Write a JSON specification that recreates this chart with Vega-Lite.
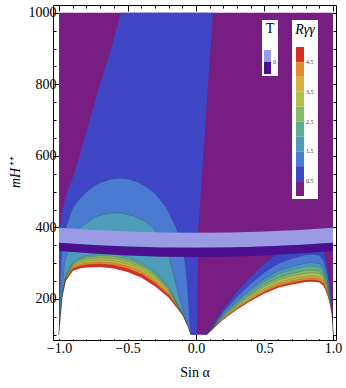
{
 "$schema": "https://vega.github.io/schema/vega-lite/v6.json",
 "width": 283, "height": 335,
 "autosize": {"type": "none"},
 "padding": {"left": 53, "top": 5, "right": 10, "bottom": 48},
 "background": "white",
 "config": {
  "view": {"stroke": "black", "strokeWidth": 1},
  "axis": {"domain": false, "grid": false, "tickColor": "black", "tickWidth": 1, "labelColor": "black", "labelFont": "Liberation Serif", "titleFont": "Liberation Serif", "titleColor": "black", "titleFontWeight": "normal"}
 },
 "datasets": {
  "bg": [{"x": -1, "x2": 1, "y": 100, "y2": 1000, "lev": 0.25}],
  "wedge": [
   {"y": 100, "xl": -1, "xr": 0.007, "lev": 0.75},
   {"y": 360, "xl": -1, "xr": 0.016, "lev": 0.75},
   {"y": 400, "xl": -0.993, "xr": 0.017, "lev": 0.75},
   {"y": 450, "xl": -0.975, "xr": 0.026, "lev": 0.75},
   {"y": 500, "xl": -0.94, "xr": 0.035, "lev": 0.75},
   {"y": 550, "xl": -0.89, "xr": 0.044, "lev": 0.75},
   {"y": 600, "xl": -0.85, "xr": 0.053, "lev": 0.75},
   {"y": 700, "xl": -0.775, "xr": 0.071, "lev": 0.75},
   {"y": 800, "xl": -0.7, "xr": 0.088, "lev": 0.75},
   {"y": 900, "xl": -0.62, "xr": 0.106, "lev": 0.75},
   {"y": 1000, "xl": -0.547, "xr": 0.124, "lev": 0.75}
  ],
  "dome": [
   {"g":"L10","lev":1.25,"x":-1,"y":100},{"g":"L10","lev":1.25,"x":-0.995,"y":200},{"g":"L10","lev":1.25,"x":-0.985,"y":309},{"g":"L10","lev":1.25,"x":-0.97,"y":360},{"g":"L10","lev":1.25,"x":-0.949,"y":401},{"g":"L10","lev":1.25,"x":-0.9,"y":455},{"g":"L10","lev":1.25,"x":-0.85,"y":480},{"g":"L10","lev":1.25,"x":-0.8,"y":499},{"g":"L10","lev":1.25,"x":-0.75,"y":514},{"g":"L10","lev":1.25,"x":-0.7,"y":525},{"g":"L10","lev":1.25,"x":-0.63,"y":534},{"g":"L10","lev":1.25,"x":-0.555,"y":538},{"g":"L10","lev":1.25,"x":-0.48,"y":534},{"g":"L10","lev":1.25,"x":-0.42,"y":526},{"g":"L10","lev":1.25,"x":-0.36,"y":513},{"g":"L10","lev":1.25,"x":-0.299,"y":495},{"g":"L10","lev":1.25,"x":-0.22,"y":458},{"g":"L10","lev":1.25,"x":-0.146,"y":401},{"g":"L10","lev":1.25,"x":-0.1,"y":345},{"g":"L10","lev":1.25,"x":-0.075,"y":290},{"g":"L10","lev":1.25,"x":-0.058,"y":215},{"g":"L10","lev":1.25,"x":-0.04,"y":100},
   {"g":"L15","lev":1.75,"x":-1,"y":100},{"g":"L15","lev":1.75,"x":-0.99,"y":160},{"g":"L15","lev":1.75,"x":-0.985,"y":197},{"g":"L15","lev":1.75,"x":-0.97,"y":260},{"g":"L15","lev":1.75,"x":-0.956,"y":309},{"g":"L15","lev":1.75,"x":-0.9,"y":370},{"g":"L15","lev":1.75,"x":-0.839,"y":401},{"g":"L15","lev":1.75,"x":-0.75,"y":426},{"g":"L15","lev":1.75,"x":-0.68,"y":436},{"g":"L15","lev":1.75,"x":-0.606,"y":441},{"g":"L15","lev":1.75,"x":-0.53,"y":439},{"g":"L15","lev":1.75,"x":-0.45,"y":431},{"g":"L15","lev":1.75,"x":-0.38,"y":419},{"g":"L15","lev":1.75,"x":-0.314,"y":400},{"g":"L15","lev":1.75,"x":-0.25,"y":362},{"g":"L15","lev":1.75,"x":-0.19,"y":309},{"g":"L15","lev":1.75,"x":-0.117,"y":197},{"g":"L15","lev":1.75,"x":-0.08,"y":150},{"g":"L15","lev":1.75,"x":-0.04,"y":100},
   {"g":"L20","lev":2.25,"x":-1,"y":100},{"g":"L20","lev":2.25,"x":-0.99,"y":145.2},{"g":"L20","lev":2.25,"x":-0.975,"y":213.8},{"g":"L20","lev":2.25,"x":-0.95,"y":266.9},{"g":"L20","lev":2.25,"x":-0.9,"y":301.9},{"g":"L20","lev":2.25,"x":-0.85,"y":313.6},{"g":"L20","lev":2.25,"x":-0.8,"y":320.5},{"g":"L20","lev":2.25,"x":-0.7,"y":326.2},{"g":"L20","lev":2.25,"x":-0.6,"y":325.6},{"g":"L20","lev":2.25,"x":-0.5,"y":316.6},{"g":"L20","lev":2.25,"x":-0.4,"y":301.9},{"g":"L20","lev":2.25,"x":-0.3,"y":275.8},{"g":"L20","lev":2.25,"x":-0.2,"y":233.6},{"g":"L20","lev":2.25,"x":-0.1,"y":160.2},{"g":"L20","lev":2.25,"x":-0.06,"y":122.8},{"g":"L20","lev":2.25,"x":-0.04,"y":100},
   {"g":"L25","lev":2.75,"x":-1,"y":100},{"g":"L25","lev":2.75,"x":-0.99,"y":144.4},{"g":"L25","lev":2.75,"x":-0.975,"y":212.5},{"g":"L25","lev":2.75,"x":-0.95,"y":264.3},{"g":"L25","lev":2.75,"x":-0.9,"y":298.2},{"g":"L25","lev":2.75,"x":-0.85,"y":309.2},{"g":"L25","lev":2.75,"x":-0.8,"y":315.5},{"g":"L25","lev":2.75,"x":-0.7,"y":320.5},{"g":"L25","lev":2.75,"x":-0.6,"y":319.3},{"g":"L25","lev":2.75,"x":-0.5,"y":310.2},{"g":"L25","lev":2.75,"x":-0.4,"y":295.4},{"g":"L25","lev":2.75,"x":-0.3,"y":269.5},{"g":"L25","lev":2.75,"x":-0.2,"y":229.1},{"g":"L25","lev":2.75,"x":-0.1,"y":159.4},{"g":"L25","lev":2.75,"x":-0.06,"y":122.7},{"g":"L25","lev":2.75,"x":-0.04,"y":100},
   {"g":"L30","lev":3.25,"x":-1,"y":100},{"g":"L30","lev":3.25,"x":-0.99,"y":143.6},{"g":"L30","lev":3.25,"x":-0.975,"y":211.1},{"g":"L30","lev":3.25,"x":-0.95,"y":261.7},{"g":"L30","lev":3.25,"x":-0.9,"y":294.6},{"g":"L30","lev":3.25,"x":-0.85,"y":304.8},{"g":"L30","lev":3.25,"x":-0.8,"y":310.5},{"g":"L30","lev":3.25,"x":-0.7,"y":314.7},{"g":"L30","lev":3.25,"x":-0.6,"y":313.1},{"g":"L30","lev":3.25,"x":-0.5,"y":303.8},{"g":"L30","lev":3.25,"x":-0.4,"y":289},{"g":"L30","lev":3.25,"x":-0.3,"y":263.3},{"g":"L30","lev":3.25,"x":-0.2,"y":224.5},{"g":"L30","lev":3.25,"x":-0.1,"y":158.6},{"g":"L30","lev":3.25,"x":-0.06,"y":122.5},{"g":"L30","lev":3.25,"x":-0.04,"y":100},
   {"g":"L35","lev":3.75,"x":-1,"y":100},{"g":"L35","lev":3.75,"x":-0.99,"y":142.8},{"g":"L35","lev":3.75,"x":-0.975,"y":209.8},{"g":"L35","lev":3.75,"x":-0.95,"y":259.1},{"g":"L35","lev":3.75,"x":-0.9,"y":290.9},{"g":"L35","lev":3.75,"x":-0.85,"y":300.4},{"g":"L35","lev":3.75,"x":-0.8,"y":305.5},{"g":"L35","lev":3.75,"x":-0.7,"y":309},{"g":"L35","lev":3.75,"x":-0.6,"y":306.8},{"g":"L35","lev":3.75,"x":-0.5,"y":297.4},{"g":"L35","lev":3.75,"x":-0.4,"y":282.5},{"g":"L35","lev":3.75,"x":-0.3,"y":257},{"g":"L35","lev":3.75,"x":-0.2,"y":220},{"g":"L35","lev":3.75,"x":-0.1,"y":157.8},{"g":"L35","lev":3.75,"x":-0.06,"y":122.4},{"g":"L35","lev":3.75,"x":-0.04,"y":100},
   {"g":"L40","lev":4.25,"x":-1,"y":100},{"g":"L40","lev":4.25,"x":-0.99,"y":142},{"g":"L40","lev":4.25,"x":-0.975,"y":208.4},{"g":"L40","lev":4.25,"x":-0.95,"y":256.5},{"g":"L40","lev":4.25,"x":-0.9,"y":287.2},{"g":"L40","lev":4.25,"x":-0.85,"y":296},{"g":"L40","lev":4.25,"x":-0.8,"y":300.5},{"g":"L40","lev":4.25,"x":-0.7,"y":303.3},{"g":"L40","lev":4.25,"x":-0.6,"y":300.6},{"g":"L40","lev":4.25,"x":-0.5,"y":291},{"g":"L40","lev":4.25,"x":-0.4,"y":276.1},{"g":"L40","lev":4.25,"x":-0.3,"y":250.7},{"g":"L40","lev":4.25,"x":-0.2,"y":215.4},{"g":"L40","lev":4.25,"x":-0.1,"y":157},{"g":"L40","lev":4.25,"x":-0.06,"y":122.3},{"g":"L40","lev":4.25,"x":-0.04,"y":100},
   {"g":"L45","lev":4.75,"x":-1,"y":100},{"g":"L45","lev":4.75,"x":-0.99,"y":141.2},{"g":"L45","lev":4.75,"x":-0.975,"y":207},{"g":"L45","lev":4.75,"x":-0.95,"y":253.9},{"g":"L45","lev":4.75,"x":-0.9,"y":283.5},{"g":"L45","lev":4.75,"x":-0.85,"y":291.6},{"g":"L45","lev":4.75,"x":-0.8,"y":295.5},{"g":"L45","lev":4.75,"x":-0.7,"y":297.6},{"g":"L45","lev":4.75,"x":-0.6,"y":294.4},{"g":"L45","lev":4.75,"x":-0.5,"y":284.6},{"g":"L45","lev":4.75,"x":-0.4,"y":269.7},{"g":"L45","lev":4.75,"x":-0.3,"y":244.4},{"g":"L45","lev":4.75,"x":-0.2,"y":210.8},{"g":"L45","lev":4.75,"x":-0.1,"y":156.2},{"g":"L45","lev":4.75,"x":-0.06,"y":122.2},{"g":"L45","lev":4.75,"x":-0.04,"y":100},
   {"g":"R05","lev":0.75,"x":0.05,"y":100},{"g":"R05","lev":0.75,"x":0.08,"y":106},{"g":"R05","lev":0.75,"x":0.1,"y":112.2},{"g":"R05","lev":0.75,"x":0.15,"y":143.5},{"g":"R05","lev":0.75,"x":0.2,"y":173.1},{"g":"R05","lev":0.75,"x":0.3,"y":221.8},{"g":"R05","lev":0.75,"x":0.4,"y":263.6},{"g":"R05","lev":0.75,"x":0.5,"y":300.1},{"g":"R05","lev":0.75,"x":0.6,"y":327.9},{"g":"R05","lev":0.75,"x":0.7,"y":343.6},{"g":"R05","lev":0.75,"x":0.8,"y":355.8},{"g":"R05","lev":0.75,"x":0.85,"y":357.5},{"g":"R05","lev":0.75,"x":0.9,"y":354},{"g":"R05","lev":0.75,"x":0.93,"y":338.4},{"g":"R05","lev":0.75,"x":0.96,"y":291.4},{"g":"R05","lev":0.75,"x":0.98,"y":239.2},{"g":"R05","lev":0.75,"x":0.99,"y":200.9},{"g":"R05","lev":0.75,"x":1,"y":100},
   {"g":"R10","lev":1.25,"x":0.08,"y":100},{"g":"R10","lev":1.25,"x":0.1,"y":110.6},{"g":"R10","lev":1.25,"x":0.15,"y":138},{"g":"R10","lev":1.25,"x":0.2,"y":163.8},{"g":"R10","lev":1.25,"x":0.3,"y":206.4},{"g":"R10","lev":1.25,"x":0.4,"y":242.9},{"g":"R10","lev":1.25,"x":0.5,"y":274.8},{"g":"R10","lev":1.25,"x":0.6,"y":299.1},{"g":"R10","lev":1.25,"x":0.7,"y":312.8},{"g":"R10","lev":1.25,"x":0.8,"y":323.4},{"g":"R10","lev":1.25,"x":0.85,"y":325},{"g":"R10","lev":1.25,"x":0.9,"y":321.9},{"g":"R10","lev":1.25,"x":0.93,"y":308.2},{"g":"R10","lev":1.25,"x":0.96,"y":267.2},{"g":"R10","lev":1.25,"x":0.98,"y":221.6},{"g":"R10","lev":1.25,"x":0.99,"y":188.2},{"g":"R10","lev":1.25,"x":1,"y":100},
   {"g":"R15","lev":1.75,"x":0.08,"y":100},{"g":"R15","lev":1.75,"x":0.1,"y":109.5},{"g":"R15","lev":1.75,"x":0.15,"y":134},{"g":"R15","lev":1.75,"x":0.2,"y":157.1},{"g":"R15","lev":1.75,"x":0.3,"y":195.2},{"g":"R15","lev":1.75,"x":0.4,"y":227.8},{"g":"R15","lev":1.75,"x":0.5,"y":256.4},{"g":"R15","lev":1.75,"x":0.6,"y":278.2},{"g":"R15","lev":1.75,"x":0.7,"y":290.4},{"g":"R15","lev":1.75,"x":0.8,"y":299.9},{"g":"R15","lev":1.75,"x":0.85,"y":301.3},{"g":"R15","lev":1.75,"x":0.9,"y":298.6},{"g":"R15","lev":1.75,"x":0.93,"y":286.3},{"g":"R15","lev":1.75,"x":0.96,"y":249.6},{"g":"R15","lev":1.75,"x":0.98,"y":208.8},{"g":"R15","lev":1.75,"x":0.99,"y":178.9},{"g":"R15","lev":1.75,"x":1,"y":100},
   {"g":"R20","lev":2.25,"x":0.08,"y":100},{"g":"R20","lev":2.25,"x":0.1,"y":109.1},{"g":"R20","lev":2.25,"x":0.15,"y":132.5},{"g":"R20","lev":2.25,"x":0.2,"y":154.6},{"g":"R20","lev":2.25,"x":0.3,"y":191},{"g":"R20","lev":2.25,"x":0.4,"y":222.2},{"g":"R20","lev":2.25,"x":0.5,"y":249.5},{"g":"R20","lev":2.25,"x":0.6,"y":270.3},{"g":"R20","lev":2.25,"x":0.7,"y":282},{"g":"R20","lev":2.25,"x":0.8,"y":291.1},{"g":"R20","lev":2.25,"x":0.85,"y":292.4},{"g":"R20","lev":2.25,"x":0.9,"y":289.8},{"g":"R20","lev":2.25,"x":0.93,"y":278.1},{"g":"R20","lev":2.25,"x":0.96,"y":243},{"g":"R20","lev":2.25,"x":0.98,"y":204},{"g":"R20","lev":2.25,"x":0.99,"y":175.4},{"g":"R20","lev":2.25,"x":1,"y":100},
   {"g":"R25","lev":2.75,"x":0.08,"y":100},{"g":"R25","lev":2.75,"x":0.1,"y":108.5},{"g":"R25","lev":2.75,"x":0.15,"y":130.5},{"g":"R25","lev":2.75,"x":0.2,"y":151.2},{"g":"R25","lev":2.75,"x":0.3,"y":185.4},{"g":"R25","lev":2.75,"x":0.4,"y":214.7},{"g":"R25","lev":2.75,"x":0.5,"y":240.3},{"g":"R25","lev":2.75,"x":0.6,"y":259.8},{"g":"R25","lev":2.75,"x":0.7,"y":270.8},{"g":"R25","lev":2.75,"x":0.8,"y":279.3},{"g":"R25","lev":2.75,"x":0.85,"y":280.6},{"g":"R25","lev":2.75,"x":0.9,"y":278.1},{"g":"R25","lev":2.75,"x":0.93,"y":267.1},{"g":"R25","lev":2.75,"x":0.96,"y":234.2},{"g":"R25","lev":2.75,"x":0.98,"y":197.6},{"g":"R25","lev":2.75,"x":0.99,"y":170.8},{"g":"R25","lev":2.75,"x":1,"y":100},
   {"g":"R30","lev":3.25,"x":0.08,"y":100},{"g":"R30","lev":3.25,"x":0.1,"y":108.2},{"g":"R30","lev":3.25,"x":0.15,"y":129.3},{"g":"R30","lev":3.25,"x":0.2,"y":149.1},{"g":"R30","lev":3.25,"x":0.3,"y":181.9},{"g":"R30","lev":3.25,"x":0.4,"y":210},{"g":"R30","lev":3.25,"x":0.5,"y":234.6},{"g":"R30","lev":3.25,"x":0.6,"y":253.3},{"g":"R30","lev":3.25,"x":0.7,"y":263.8},{"g":"R30","lev":3.25,"x":0.8,"y":272},{"g":"R30","lev":3.25,"x":0.85,"y":273.2},{"g":"R30","lev":3.25,"x":0.9,"y":270.8},{"g":"R30","lev":3.25,"x":0.93,"y":260.3},{"g":"R30","lev":3.25,"x":0.96,"y":228.7},{"g":"R30","lev":3.25,"x":0.98,"y":193.6},{"g":"R30","lev":3.25,"x":0.99,"y":167.9},{"g":"R30","lev":3.25,"x":1,"y":100},
   {"g":"R35","lev":3.75,"x":0.08,"y":100},{"g":"R35","lev":3.75,"x":0.1,"y":107.8},{"g":"R35","lev":3.75,"x":0.15,"y":127.8},{"g":"R35","lev":3.75,"x":0.2,"y":146.6},{"g":"R35","lev":3.75,"x":0.3,"y":177.7},{"g":"R35","lev":3.75,"x":0.4,"y":204.3},{"g":"R35","lev":3.75,"x":0.5,"y":227.7},{"g":"R35","lev":3.75,"x":0.6,"y":245.4},{"g":"R35","lev":3.75,"x":0.7,"y":255.4},{"g":"R35","lev":3.75,"x":0.8,"y":263.2},{"g":"R35","lev":3.75,"x":0.85,"y":264.3},{"g":"R35","lev":3.75,"x":0.9,"y":262.1},{"g":"R35","lev":3.75,"x":0.93,"y":252.1},{"g":"R35","lev":3.75,"x":0.96,"y":222.1},{"g":"R35","lev":3.75,"x":0.98,"y":188.8},{"g":"R35","lev":3.75,"x":0.99,"y":164.4},{"g":"R35","lev":3.75,"x":1,"y":100},
   {"g":"R40","lev":4.25,"x":0.08,"y":100},{"g":"R40","lev":4.25,"x":0.1,"y":107.5},{"g":"R40","lev":4.25,"x":0.15,"y":127},{"g":"R40","lev":4.25,"x":0.2,"y":145},{"g":"R40","lev":4.25,"x":0.3,"y":175},{"g":"R40","lev":4.25,"x":0.4,"y":201},{"g":"R40","lev":4.25,"x":0.5,"y":223.5},{"g":"R40","lev":4.25,"x":0.6,"y":240.7},{"g":"R40","lev":4.25,"x":0.7,"y":250.4},{"g":"R40","lev":4.25,"x":0.8,"y":258},{"g":"R40","lev":4.25,"x":0.85,"y":259},{"g":"R40","lev":4.25,"x":0.9,"y":257},{"g":"R40","lev":4.25,"x":0.93,"y":247},{"g":"R40","lev":4.25,"x":0.96,"y":218},{"g":"R40","lev":4.25,"x":0.98,"y":186},{"g":"R40","lev":4.25,"x":0.99,"y":162},{"g":"R40","lev":4.25,"x":1,"y":100},
   {"g":"R45","lev":4.75,"x":0.08,"y":100},{"g":"R45","lev":4.75,"x":0.1,"y":107},{"g":"R45","lev":4.75,"x":0.15,"y":126},{"g":"R45","lev":4.75,"x":0.2,"y":143.5},{"g":"R45","lev":4.75,"x":0.3,"y":172.5},{"g":"R45","lev":4.75,"x":0.4,"y":197},{"g":"R45","lev":4.75,"x":0.5,"y":219},{"g":"R45","lev":4.75,"x":0.6,"y":235.6},{"g":"R45","lev":4.75,"x":0.7,"y":245},{"g":"R45","lev":4.75,"x":0.8,"y":252},{"g":"R45","lev":4.75,"x":0.85,"y":253},{"g":"R45","lev":4.75,"x":0.9,"y":251},{"g":"R45","lev":4.75,"x":0.93,"y":242},{"g":"R45","lev":4.75,"x":0.96,"y":214},{"g":"R45","lev":4.75,"x":0.98,"y":183},{"g":"R45","lev":4.75,"x":0.99,"y":160},{"g":"R45","lev":4.75,"x":1,"y":100}
  ],
  "white": [
   {"g":"LW","x":-1,"y":100},{"g":"LW","x":-0.99,"y":140},{"g":"LW","x":-0.975,"y":205},{"g":"LW","x":-0.95,"y":250},{"g":"LW","x":-0.9,"y":278},{"g":"LW","x":-0.85,"y":285},{"g":"LW","x":-0.8,"y":288},{"g":"LW","x":-0.7,"y":289},{"g":"LW","x":-0.6,"y":285},{"g":"LW","x":-0.5,"y":275},{"g":"LW","x":-0.4,"y":260},{"g":"LW","x":-0.3,"y":235},{"g":"LW","x":-0.2,"y":204},{"g":"LW","x":-0.1,"y":155},{"g":"LW","x":-0.06,"y":122},{"g":"LW","x":-0.04,"y":100},
   {"g":"RW","x":0.08,"y":100},{"g":"RW","x":0.1,"y":107},{"g":"RW","x":0.15,"y":125},{"g":"RW","x":0.2,"y":142},{"g":"RW","x":0.3,"y":170},{"g":"RW","x":0.4,"y":194},{"g":"RW","x":0.5,"y":215},{"g":"RW","x":0.6,"y":231},{"g":"RW","x":0.7,"y":240},{"g":"RW","x":0.8,"y":247},{"g":"RW","x":0.85,"y":248},{"g":"RW","x":0.9,"y":246},{"g":"RW","x":0.93,"y":237},{"g":"RW","x":0.96,"y":210},{"g":"RW","x":0.98,"y":180},{"g":"RW","x":0.99,"y":158},{"g":"RW","x":1,"y":100}
  ],
  "tband": [
   {"t":1,"x":-1,"y":399,"y2":357},{"t":1,"x":-0.75,"y":392.9,"y2":350.9},{"t":1,"x":-0.5,"y":388.5,"y2":346.5},{"t":1,"x":-0.25,"y":385.9,"y2":343.9},{"t":1,"x":0,"y":385,"y2":343},{"t":1,"x":0.25,"y":385.9,"y2":343.9},{"t":1,"x":0.5,"y":388.5,"y2":346.5},{"t":1,"x":0.75,"y":392.9,"y2":350.9},{"t":1,"x":1,"y":399,"y2":357},
   {"t":-1,"x":-1,"y":357,"y2":334},{"t":-1,"x":-0.75,"y":350.9,"y2":326.6},{"t":-1,"x":-0.5,"y":346.5,"y2":321.3},{"t":-1,"x":-0.25,"y":343.9,"y2":318.1},{"t":-1,"x":0,"y":343,"y2":317},{"t":-1,"x":0.25,"y":343.9,"y2":318.1},{"t":-1,"x":0.5,"y":346.5,"y2":321.3},{"t":-1,"x":0.75,"y":350.9,"y2":326.6},{"t":-1,"x":1,"y":357,"y2":334}
  ]
 },
 "layer": [
  {
   "layer": [
    {
     "data": {"name": "bg"},
     "mark": {"type": "rect"},
     "encoding": {
      "x": {"field": "x", "type": "quantitative", "scale": {"domain": [-1.044, 1.022], "nice": false, "zero": false},
            "axis": {"orient": "bottom", "values": [-1, -0.5, 0, 0.5, 1], "format": ".1f", "tickSize": -6, "labelFontSize": 14, "labelPadding": 7, "title": "Sin α", "titleFontSize": 14, "titlePadding": 10}},
      "x2": {"field": "x2"},
      "y": {"field": "y", "type": "quantitative", "scale": {"domain": [85, 1022], "nice": false, "zero": false},
            "axis": {"orient": "left", "values": [200, 400, 600, 800, 1000], "format": "d", "tickSize": -6, "labelFontSize": 14, "labelPadding": 3, "title": "mH⁺⁺", "titleFontSize": 14, "titleFontStyle": "italic", "titlePadding": 6}},
      "y2": {"field": "y2"},
      "color": {"field": "lev", "type": "quantitative",
                "scale": {"type": "threshold", "domain": [0.5, 1, 1.5, 2, 2.5, 3, 3.5, 4, 4.5], "range": ["#781E82", "#3E46C6", "#4A7AD2", "#4E9BBA", "#5EAB90", "#86BA68", "#B0BE50", "#D4B242", "#E48A32", "#DB2B26"]},
                "legend": {"type": "gradient", "orient": "none", "legendX": 239, "legendY": 15, "direction": "vertical", "gradientLength": 149, "gradientThickness": 8, "gradientStrokeWidth": 0, "fillColor": "white", "padding": 3, "title": "Rγγ", "titleFont": "Liberation Serif", "titleFontStyle": "italic", "titleFontSize": 14, "titleFontWeight": "normal", "titleColor": "black", "titlePadding": 10, "titleAnchor": "middle", "labelFont": "Liberation Serif", "labelFontSize": 6, "labelColor": "#333", "labelOffset": 2, "format": ".1f", "labelExpr": "(datum.value * 2) % 2 == 1 ? format(datum.value, '.1f') : ''"}}
     }
    },
    {
     "data": {"name": "wedge"},
     "mark": {"type": "area", "orient": "horizontal"},
     "encoding": {
      "y": {"field": "y", "type": "quantitative", "scale": {"domain": [85, 1022], "nice": false, "zero": false},
            "axis": {"orient": "left", "values": [100, 150, 250, 300, 350, 450, 500, 550, 650, 700, 750, 850, 900, 950], "tickSize": -3, "labels": false, "title": null}},
      "x": {"field": "xl", "type": "quantitative", "scale": {"domain": [-1.044, 1.022], "nice": false, "zero": false},
            "axis": {"orient": "bottom", "values": [-0.9, -0.8, -0.7, -0.6, -0.4, -0.3, -0.2, -0.1, 0.1, 0.2, 0.3, 0.4, 0.6, 0.7, 0.8, 0.9], "tickSize": -3, "labels": false, "title": null}},
      "x2": {"field": "xr"},
      "color": {"field": "lev", "type": "quantitative", "scale": {"type": "threshold", "domain": [0.5, 1, 1.5, 2, 2.5, 3, 3.5, 4, 4.5], "range": ["#781E82", "#3E46C6", "#4A7AD2", "#4E9BBA", "#5EAB90", "#86BA68", "#B0BE50", "#D4B242", "#E48A32", "#DB2B26"]}, "legend": null}
     }
    },
    {
     "data": {"name": "dome"},
     "mark": {"type": "area"},
     "encoding": {
      "x": {"field": "x", "type": "quantitative", "scale": {"domain": [-1.044, 1.022], "nice": false, "zero": false},
            "axis": {"orient": "top", "values": [-1, -0.5, 0, 0.5, 1], "tickSize": -6, "labels": false, "title": null}},
      "y": {"field": "y", "type": "quantitative", "scale": {"domain": [85, 1022], "nice": false, "zero": false},
            "axis": {"orient": "right", "values": [200, 400, 600, 800, 1000], "tickSize": -6, "labels": false, "title": null}},
      "y2": {"datum": 100},
      "detail": {"field": "g"},
      "color": {"field": "lev", "type": "quantitative", "scale": {"type": "threshold", "domain": [0.5, 1, 1.5, 2, 2.5, 3, 3.5, 4, 4.5], "range": ["#781E82", "#3E46C6", "#4A7AD2", "#4E9BBA", "#5EAB90", "#86BA68", "#B0BE50", "#D4B242", "#E48A32", "#DB2B26"]}, "legend": null}
     }
    },
    {
     "data": {"name": "dome"},
     "mark": {"type": "line", "color": "#222222", "strokeWidth": 0.6, "opacity": 0.35},
     "encoding": {
      "x": {"field": "x", "type": "quantitative", "scale": {"domain": [-1.044, 1.022], "nice": false, "zero": false}, "axis": null},
      "y": {"field": "y", "type": "quantitative", "scale": {"domain": [85, 1022], "nice": false, "zero": false}, "axis": null},
      "detail": {"field": "g"}
     }
    },
    {
     "data": {"name": "white"},
     "mark": {"type": "area", "color": "white"},
     "encoding": {
      "x": {"field": "x", "type": "quantitative", "scale": {"domain": [-1.044, 1.022], "nice": false, "zero": false},
            "axis": {"orient": "top", "values": [-0.9, -0.8, -0.7, -0.6, -0.4, -0.3, -0.2, -0.1, 0.1, 0.2, 0.3, 0.4, 0.6, 0.7, 0.8, 0.9], "tickSize": -3, "labels": false, "title": null}},
      "y": {"field": "y", "type": "quantitative", "scale": {"domain": [85, 1022], "nice": false, "zero": false},
            "axis": {"orient": "right", "values": [100, 150, 250, 300, 350, 450, 500, 550, 650, 700, 750, 850, 900, 950], "tickSize": -3, "labels": false, "title": null}},
      "y2": {"datum": 87},
      "detail": {"field": "g"}
     }
    }
   ],
   "resolve": {"axis": {"x": "independent", "y": "independent"}}
  },
  {
   "data": {"name": "tband"},
   "mark": {"type": "area"},
   "encoding": {
    "x": {"field": "x", "type": "quantitative", "scale": {"domain": [-1.044, 1.022], "nice": false, "zero": false}, "axis": null},
    "y": {"field": "y", "type": "quantitative", "scale": {"domain": [85, 1022], "nice": false, "zero": false}, "axis": null},
    "y2": {"field": "y2"},
    "color": {"field": "t", "type": "quantitative",
              "scale": {"type": "threshold", "domain": [0], "range": ["#4A1090", "#9B9BE5"]},
              "legend": {"type": "gradient", "orient": "none", "legendX": 209, "legendY": 15, "direction": "vertical", "gradientLength": 24, "gradientThickness": 7, "gradientStrokeWidth": 0, "fillColor": "white", "padding": 2, "title": "T", "titleFont": "Liberation Serif", "titleFontSize": 14, "titleFontWeight": "normal", "titleColor": "black", "titlePadding": 14, "titleAnchor": "middle", "labelFont": "Liberation Serif", "labelFontSize": 6, "labelColor": "#333", "labelOffset": 2, "format": "d"}}
   }
  }
 ],
 "resolve": {"scale": {"color": "independent"}, "axis": {"x": "independent", "y": "independent"}}
}
